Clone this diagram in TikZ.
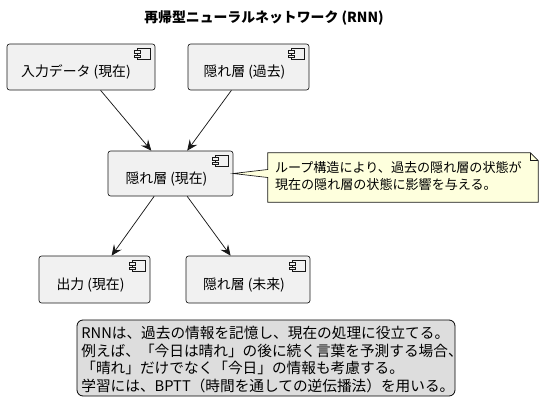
\documentclass[tikz,border=0pt]{standalone}
\usepackage{fontspec}
\setmainfont{Noto Sans CJK JP}
\usetikzlibrary{arrows.meta,calc}
\definecolor{boxfill}{HTML}{F1F1F1}
\definecolor{lineclr}{HTML}{181818}
\definecolor{notefill}{HTML}{FEFFDD}
\definecolor{legfill}{HTML}{DDDDDD}
\tikzset{
  comp/.style={draw=lineclr, fill=boxfill, line width=0.5pt, rounded corners=1.9pt, inner sep=0pt},
  comptext/.style={font=\fontsize{10.4pt}{12pt}\selectfont, inner sep=0pt},
  flow/.style={draw=lineclr, line width=0.55pt, -{Stealth[length=8pt,width=7pt,inset=3pt]}},
  iconline/.style={draw=lineclr, line width=0.4pt, fill=boxfill},
}
\newcommand\compicon[1]{%
  \draw[iconline] ($(#1.north east)+(-18,5)$) rectangle ($(#1.north east)+(-5,16)$);
  \draw[iconline] ($(#1.north east)+(-21,7)$) rectangle ($(#1.north east)+(-15,9.3)$);
  \draw[iconline] ($(#1.north east)+(-21,11.7)$) rectangle ($(#1.north east)+(-15,14)$);
}
\begin{document}
\begin{tikzpicture}[x=0.75pt,y=-0.75pt]
\useasboundingbox (0,0) rectangle (542,414);
\node[font=\bfseries\fontsize{10.4pt}{12pt}\selectfont, inner sep=0pt] (title) at (264,18) {再帰型ニューラルネットワーク (RNN)};

% boxes
\node[comp, minimum width=111pt, minimum height=34.5pt] (b1) at (81,67) {};
\node[comp, minimum width=90.75pt, minimum height=34.5pt] (b2) at (248.5,67) {};
\node[comp, minimum width=93.75pt, minimum height=33.75pt] (b3) at (170.5,173.5) {};
\node[comp, minimum width=83.25pt, minimum height=35.25pt] (b4) at (94.5,279.5) {};
\node[comp, minimum width=93pt, minimum height=35.25pt] (b5) at (248,279.5) {};
\compicon{b1}\compicon{b2}\compicon{b3}\compicon{b4}\compicon{b5}

\node[comptext] (t1) at ($(b1.center)+(-5,5)$) {入力データ (現在)};
\node[comptext] (t2) at ($(b2.center)+(-4,5)$) {隠れ層 (過去)};
\node[comptext] (t3) at ($(b3.center)+(-4,6)$) {隠れ層 (現在)};
\node[comptext] (t4) at ($(b4.center)+(-4,5.5)$) {出力 (現在)};
\node[comptext] (t5) at ($(b5.center)+(-4,5.5)$) {隠れ層 (未来)};

% arrows
\draw[flow] (b1) -- (b3);
\draw[flow] (b2) -- (b3);
\draw[flow] (b3) -- (b4);
\draw[flow] (b3) -- (b5);

% note
\node[minimum width=202.5pt, minimum height=36.75pt, inner sep=0pt] (note) at (403,177.5) {};
\draw[draw=lineclr, fill=notefill, line width=0.5pt, line join=miter]
  (note.north west) -- ($(note.north east)+(-8,0)$) -- ($(note.north east)+(0,8)$)
  -- (note.south east) -- (note.south west) -- ($(note.west)+(0,0)$) -- (b3.east)
  -- ($(note.west)+(0,-8)$) -- cycle;
\draw[draw=lineclr, line width=0.5pt]
  ($(note.north east)+(-8,0)$) -- ($(note.north east)+(-8,8)$) -- ($(note.north east)+(0,8)$);
\node[anchor=west, align=left, inner sep=0pt, font=\fontsize{9.8pt}{12.75pt}\selectfont] (notetext) at ($(note.west)+(7,-1.5)$)
  {ループ構造により、過去の隠れ層の状態が\\現在の隠れ層の状態に影響を与える。};

% legend
\node[draw=black, fill=legfill, line width=0.6pt, rounded corners=4.5pt, minimum width=283.5pt, minimum height=57pt, inner sep=0pt] (legend) at (266,358) {};
\node[anchor=west, align=left, inner sep=0pt, font=\fontsize{11pt}{13.3pt}\selectfont] (legtext) at ($(legend.west)+(4.5,1.5)$)
  {RNNは、過去の情報を記憶し、現在の処理に役立てる。\\例えば、「今日は晴れ」の後に続く言葉を予測する場合、\\「晴れ」だけでなく「今日」の情報も考慮する。\\学習には、BPTT（時間を通しての逆伝播法）を用いる。};
\end{tikzpicture}
\end{document}
